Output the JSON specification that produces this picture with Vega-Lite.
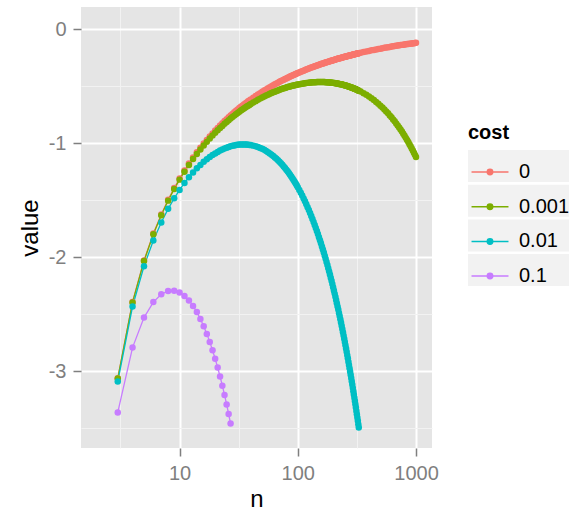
{
  "$schema": "https://vega.github.io/schema/vega-lite/v6.json",
  "width": 351,
  "height": 441,
  "autosize": {"type": "none"},
  "padding": {"left": 81, "top": 7, "right": 149, "bottom": 64},
  "background": "white",
  "config": {
    "font": "Liberation Sans",
    "view": {"fill": "#E5E5E5", "stroke": null}
  },
  "data": {"values": [
    {"n":3,"a":-3.06,"b":-3.063,"c":-3.09,"d":-3.36},
    {"n":4,"a":-2.392,"b":-2.396,"c":-2.432,"d":-2.792},
    {"n":5,"a":-2.029,"b":-2.034,"c":-2.079,"d":-2.529},
    {"n":6,"a":-1.793,"b":-1.799,"c":-1.853,"d":-2.393},
    {"n":7,"a":-1.625,"b":-1.632,"c":-1.695,"d":-2.325},
    {"n":8,"a":-1.496,"b":-1.504,"c":-1.576,"d":-2.296},
    {"n":9,"a":-1.394,"b":-1.403,"c":-1.484,"d":-2.294},
    {"n":10,"a":-1.31,"b":-1.32,"c":-1.41,"d":-2.31},
    {"n":11,"a":-1.239,"b":-1.25,"c":-1.349,"d":-2.339},
    {"n":12,"a":-1.179,"b":-1.191,"c":-1.299,"d":-2.379},
    {"n":13,"a":-1.127,"b":-1.14,"c":-1.257,"d":-2.427},
    {"n":14,"a":-1.081,"b":-1.095,"c":-1.221,"d":-2.481},
    {"n":15,"a":-1.041,"b":-1.056,"c":-1.191,"d":-2.541},
    {"n":16,"a":-1.004,"b":-1.02,"c":-1.164,"d":-2.604},
    {"n":17,"a":-0.972,"b":-0.989,"c":-1.142,"d":-2.672},
    {"n":18,"a":-0.942,"b":-0.96,"c":-1.122,"d":-2.742},
    {"n":19,"a":-0.915,"b":-0.934,"c":-1.105,"d":-2.815},
    {"n":20,"a":-0.89,"b":-0.91,"c":-1.09,"d":-2.89},
    {"n":21,"a":-0.867,"b":-0.888,"c":-1.077,"d":-2.967},
    {"n":22,"a":-0.845,"b":-0.867,"c":-1.065,"d":-3.045},
    {"n":23,"a":-0.826,"b":-0.849,"c":-1.056,"d":-3.126},
    {"n":24,"a":-0.807,"b":-0.831,"c":-1.047,"d":-3.207},
    {"n":25,"a":-0.79,"b":-0.815,"c":-1.04,"d":-3.29},
    {"n":26,"a":-0.774,"b":-0.8,"c":-1.034,"d":-3.374},
    {"n":27,"a":-0.758,"b":-0.785,"c":-1.028,"d":-3.458},
    {"n":28,"a":-0.744,"b":-0.772,"c":-1.024},
    {"n":29,"a":-0.73,"b":-0.759,"c":-1.02},
    {"n":30,"a":-0.717,"b":-0.747,"c":-1.017},
    {"n":31,"a":-0.705,"b":-0.736,"c":-1.015},
    {"n":32,"a":-0.693,"b":-0.725,"c":-1.013},
    {"n":33,"a":-0.682,"b":-0.715,"c":-1.012},
    {"n":34,"a":-0.672,"b":-0.706,"c":-1.012},
    {"n":35,"a":-0.662,"b":-0.697,"c":-1.012},
    {"n":36,"a":-0.652,"b":-0.688,"c":-1.012},
    {"n":37,"a":-0.643,"b":-0.68,"c":-1.013},
    {"n":38,"a":-0.634,"b":-0.672,"c":-1.014},
    {"n":39,"a":-0.626,"b":-0.665,"c":-1.016},
    {"n":40,"a":-0.617,"b":-0.657,"c":-1.017},
    {"n":42,"a":-0.602,"b":-0.644,"c":-1.022},
    {"n":44,"a":-0.588,"b":-0.632,"c":-1.028},
    {"n":46,"a":-0.574,"b":-0.62,"c":-1.034},
    {"n":48,"a":-0.562,"b":-0.61,"c":-1.042},
    {"n":50,"a":-0.55,"b":-0.6,"c":-1.05},
    {"n":52,"a":-0.539,"b":-0.591,"c":-1.059},
    {"n":54,"a":-0.529,"b":-0.583,"c":-1.069},
    {"n":56,"a":-0.519,"b":-0.575,"c":-1.079},
    {"n":58,"a":-0.51,"b":-0.568,"c":-1.09},
    {"n":60,"a":-0.501,"b":-0.561,"c":-1.101},
    {"n":62,"a":-0.493,"b":-0.555,"c":-1.113},
    {"n":64,"a":-0.485,"b":-0.549,"c":-1.125},
    {"n":66,"a":-0.477,"b":-0.543,"c":-1.137},
    {"n":68,"a":-0.47,"b":-0.538,"c":-1.15},
    {"n":70,"a":-0.463,"b":-0.533,"c":-1.163},
    {"n":72,"a":-0.456,"b":-0.528,"c":-1.176},
    {"n":74,"a":-0.45,"b":-0.524,"c":-1.19},
    {"n":76,"a":-0.444,"b":-0.52,"c":-1.204},
    {"n":78,"a":-0.438,"b":-0.516,"c":-1.218},
    {"n":80,"a":-0.433,"b":-0.513,"c":-1.233},
    {"n":82,"a":-0.427,"b":-0.509,"c":-1.247},
    {"n":84,"a":-0.422,"b":-0.506,"c":-1.262},
    {"n":86,"a":-0.417,"b":-0.503,"c":-1.277},
    {"n":88,"a":-0.412,"b":-0.5,"c":-1.292},
    {"n":90,"a":-0.407,"b":-0.497,"c":-1.307},
    {"n":92,"a":-0.403,"b":-0.495,"c":-1.323},
    {"n":94,"a":-0.399,"b":-0.493,"c":-1.339},
    {"n":96,"a":-0.394,"b":-0.49,"c":-1.354},
    {"n":98,"a":-0.39,"b":-0.488,"c":-1.37},
    {"n":100,"a":-0.386,"b":-0.486,"c":-1.386},
    {"n":103,"a":-0.381,"b":-0.484,"c":-1.411},
    {"n":106,"a":-0.375,"b":-0.481,"c":-1.435},
    {"n":109,"a":-0.37,"b":-0.479,"c":-1.46},
    {"n":112,"a":-0.365,"b":-0.477,"c":-1.485},
    {"n":115,"a":-0.36,"b":-0.475,"c":-1.51},
    {"n":118,"a":-0.355,"b":-0.473,"c":-1.535},
    {"n":121,"a":-0.351,"b":-0.472,"c":-1.561},
    {"n":124,"a":-0.346,"b":-0.47,"c":-1.586},
    {"n":127,"a":-0.342,"b":-0.469,"c":-1.612},
    {"n":130,"a":-0.338,"b":-0.468,"c":-1.638},
    {"n":133,"a":-0.334,"b":-0.467,"c":-1.664},
    {"n":136,"a":-0.331,"b":-0.467,"c":-1.691},
    {"n":139,"a":-0.327,"b":-0.466,"c":-1.717},
    {"n":142,"a":-0.324,"b":-0.466,"c":-1.744},
    {"n":145,"a":-0.32,"b":-0.465,"c":-1.77},
    {"n":148,"a":-0.317,"b":-0.465,"c":-1.797},
    {"n":151,"a":-0.314,"b":-0.465,"c":-1.824},
    {"n":154,"a":-0.311,"b":-0.465,"c":-1.851},
    {"n":157,"a":-0.307,"b":-0.464,"c":-1.877},
    {"n":160,"a":-0.305,"b":-0.465,"c":-1.905},
    {"n":163,"a":-0.302,"b":-0.465,"c":-1.932},
    {"n":166,"a":-0.299,"b":-0.465,"c":-1.959},
    {"n":169,"a":-0.296,"b":-0.465,"c":-1.986},
    {"n":172,"a":-0.294,"b":-0.466,"c":-2.014},
    {"n":175,"a":-0.291,"b":-0.466,"c":-2.041},
    {"n":178,"a":-0.289,"b":-0.467,"c":-2.069},
    {"n":181,"a":-0.286,"b":-0.467,"c":-2.096},
    {"n":184,"a":-0.284,"b":-0.468,"c":-2.124},
    {"n":187,"a":-0.282,"b":-0.469,"c":-2.152},
    {"n":190,"a":-0.279,"b":-0.469,"c":-2.179},
    {"n":193,"a":-0.277,"b":-0.47,"c":-2.207},
    {"n":196,"a":-0.275,"b":-0.471,"c":-2.235},
    {"n":199,"a":-0.273,"b":-0.472,"c":-2.263},
    {"n":202,"a":-0.271,"b":-0.473,"c":-2.291},
    {"n":205,"a":-0.269,"b":-0.474,"c":-2.319},
    {"n":208,"a":-0.267,"b":-0.475,"c":-2.347},
    {"n":211,"a":-0.265,"b":-0.476,"c":-2.375},
    {"n":214,"a":-0.263,"b":-0.477,"c":-2.403},
    {"n":217,"a":-0.261,"b":-0.478,"c":-2.431},
    {"n":220,"a":-0.259,"b":-0.479,"c":-2.459},
    {"n":223,"a":-0.258,"b":-0.481,"c":-2.488},
    {"n":226,"a":-0.256,"b":-0.482,"c":-2.516},
    {"n":229,"a":-0.254,"b":-0.483,"c":-2.544},
    {"n":232,"a":-0.253,"b":-0.485,"c":-2.573},
    {"n":235,"a":-0.251,"b":-0.486,"c":-2.601},
    {"n":238,"a":-0.249,"b":-0.487,"c":-2.629},
    {"n":241,"a":-0.248,"b":-0.489,"c":-2.658},
    {"n":244,"a":-0.246,"b":-0.49,"c":-2.686},
    {"n":247,"a":-0.245,"b":-0.492,"c":-2.715},
    {"n":250,"a":-0.243,"b":-0.493,"c":-2.743},
    {"n":253,"a":-0.242,"b":-0.495,"c":-2.772},
    {"n":256,"a":-0.24,"b":-0.496,"c":-2.8},
    {"n":259,"a":-0.239,"b":-0.498,"c":-2.829},
    {"n":262,"a":-0.238,"b":-0.5,"c":-2.858},
    {"n":265,"a":-0.236,"b":-0.501,"c":-2.886},
    {"n":268,"a":-0.235,"b":-0.503,"c":-2.915},
    {"n":271,"a":-0.234,"b":-0.505,"c":-2.944},
    {"n":274,"a":-0.232,"b":-0.506,"c":-2.972},
    {"n":277,"a":-0.231,"b":-0.508,"c":-3.001},
    {"n":280,"a":-0.23,"b":-0.51,"c":-3.03},
    {"n":283,"a":-0.229,"b":-0.512,"c":-3.059},
    {"n":286,"a":-0.227,"b":-0.513,"c":-3.087},
    {"n":289,"a":-0.226,"b":-0.515,"c":-3.116},
    {"n":292,"a":-0.225,"b":-0.517,"c":-3.145},
    {"n":295,"a":-0.224,"b":-0.519,"c":-3.174},
    {"n":298,"a":-0.223,"b":-0.521,"c":-3.203},
    {"n":301,"a":-0.222,"b":-0.523,"c":-3.232},
    {"n":304,"a":-0.22,"b":-0.524,"c":-3.26},
    {"n":307,"a":-0.219,"b":-0.526,"c":-3.289},
    {"n":310,"a":-0.218,"b":-0.528,"c":-3.318},
    {"n":313,"a":-0.217,"b":-0.53,"c":-3.347},
    {"n":316,"a":-0.216,"b":-0.532,"c":-3.376},
    {"n":319,"a":-0.215,"b":-0.534,"c":-3.405},
    {"n":322,"a":-0.214,"b":-0.536,"c":-3.434},
    {"n":325,"a":-0.213,"b":-0.538,"c":-3.463},
    {"n":328,"a":-0.212,"b":-0.54,"c":-3.492},
    {"n":340,"a":-0.208,"b":-0.548},
    {"n":360,"a":-0.202,"b":-0.563},
    {"n":380,"a":-0.197,"b":-0.577},
    {"n":400,"a":-0.192,"b":-0.592},
    {"n":420,"a":-0.187,"b":-0.607},
    {"n":440,"a":-0.183,"b":-0.623},
    {"n":460,"a":-0.179,"b":-0.639},
    {"n":480,"a":-0.175,"b":-0.655},
    {"n":500,"a":-0.172,"b":-0.672},
    {"n":520,"a":-0.168,"b":-0.688},
    {"n":540,"a":-0.165,"b":-0.705},
    {"n":560,"a":-0.162,"b":-0.722},
    {"n":580,"a":-0.159,"b":-0.739},
    {"n":600,"a":-0.157,"b":-0.757},
    {"n":620,"a":-0.154,"b":-0.774},
    {"n":640,"a":-0.152,"b":-0.792},
    {"n":660,"a":-0.149,"b":-0.809},
    {"n":680,"a":-0.147,"b":-0.827},
    {"n":700,"a":-0.145,"b":-0.845},
    {"n":720,"a":-0.143,"b":-0.863},
    {"n":740,"a":-0.141,"b":-0.881},
    {"n":760,"a":-0.139,"b":-0.899},
    {"n":780,"a":-0.137,"b":-0.917},
    {"n":800,"a":-0.136,"b":-0.936},
    {"n":820,"a":-0.134,"b":-0.954},
    {"n":840,"a":-0.132,"b":-0.972},
    {"n":860,"a":-0.131,"b":-0.991},
    {"n":880,"a":-0.129,"b":-1.009},
    {"n":900,"a":-0.128,"b":-1.028},
    {"n":920,"a":-0.127,"b":-1.047},
    {"n":940,"a":-0.125,"b":-1.065},
    {"n":960,"a":-0.124,"b":-1.084},
    {"n":980,"a":-0.123,"b":-1.103},
    {"n":1000,"a":-0.121,"b":-1.121}
  ]},
  "transform": [
    {"fold": ["a", "b", "c", "d"], "as": ["cost", "value"]},
    {"filter": "isValid(datum.value)"}
  ],
  "encoding": {
    "x": {
      "field": "n", "type": "quantitative",
      "scale": {"type": "log", "domain": [1.466, 1365], "nice": false},
      "axis": {
        "values": [10, 100, 1000], "labelExpr": "'' + datum.value", "labelFlush": false,
        "grid": true, "gridColor": "#FFFFFF", "gridWidth": 2, "domain": false,
        "tickColor": "#7F7F7F", "tickSize": 8, "tickWidth": 1.5,
        "labelColor": "#7F7F7F", "labelFontSize": 20, "labelPadding": 7,
        "title": "n", "titleFontSize": 24, "titleFontWeight": "normal", "titleColor": "#000000", "titlePadding": 4
      }
    },
    "y": {
      "field": "value", "type": "quantitative",
      "scale": {"domain": [-3.672, 0.193], "nice": false, "zero": false},
      "axis": {
        "values": [-3, -2, -1, 0], "labelExpr": "'' + datum.value", "labelFlush": false,
        "grid": true, "gridColor": "#FFFFFF", "gridWidth": 2, "domain": false,
        "tickColor": "#7F7F7F", "tickSize": 8, "tickWidth": 1.5,
        "labelColor": "#7F7F7F", "labelFontSize": 20, "labelPadding": 7,
        "title": "value", "titleFontSize": 24, "titleFontWeight": "normal", "titleColor": "#000000", "titlePadding": 6
      }
    },
    "color": {
      "field": "cost", "type": "nominal",
      "scale": {"domain": ["a", "b", "c", "d"], "range": ["#F8766D", "#7CAE00", "#00BFC4", "#C77CFF"]},
      "legend": {
        "title": "cost", "orient": "none", "legendX": 387, "legendY": 116, "padding": 0,
        "titleFontSize": 20, "titleFontWeight": "bold", "titleColor": "#000000", "titlePadding": 7,
        "labelFontSize": 20, "labelColor": "#000000", "labelOffset": 7,
        "labelExpr": "datum.label == 'a' ? '0' : datum.label == 'b' ? '0.001' : datum.label == 'c' ? '0.01' : '0.1'",
        "symbolType": "M-0.88,0L0.88,0M-0.13,0A0.13,0.13,0,1,0,0.13,0A0.13,0.13,0,1,0,-0.13,0Z",
        "symbolSize": 1764, "symbolStrokeWidth": 1.5, "rowPadding": 2.7,
        "encode": {
          "entries": {"update": {"fill": {"value": "#F2F2F2"}, "width": {"value": 44}, "height": {"value": 44}}},
          "symbols": {"update": {
            "fill": {"scale": "color", "field": "value"},
            "stroke": {"scale": "color", "field": "value"},
            "strokeWidth": {"value": 1.5},
            "size": {"value": 1764},
            "shape": {"value": "M-0.88,0L0.88,0M-0.13,0A0.13,0.13,0,1,0,0.13,0A0.13,0.13,0,1,0,-0.13,0Z"},
            "opacity": {"value": 1}
          }}
        }
      }
    }
  },
  "layer": [
    {"mark": {"type": "line", "strokeWidth": 1.3}},
    {
      "mark": {"type": "point", "filled": true, "size": 42, "opacity": 1},
      "encoding": {
        "order": {"field": "cost"},
        "x": {
          "field": "n", "type": "quantitative",
          "scale": {"type": "log", "domain": [1.466, 1365], "nice": false},
          "axis": {"orient": "top", "values": [3.162, 31.62, 316.2], "grid": true, "gridColor": "#F2F2F2", "gridWidth": 1, "ticks": false, "labels": false, "domain": false, "title": null}
        },
        "y": {
          "field": "value", "type": "quantitative",
          "scale": {"domain": [-3.672, 0.193], "nice": false, "zero": false},
          "axis": {"orient": "right", "values": [-3.5, -2.5, -1.5, -0.5], "grid": true, "gridColor": "#F2F2F2", "gridWidth": 1, "ticks": false, "labels": false, "domain": false, "title": null}
        }
      }
    }
  ],
  "resolve": {"axis": {"x": "independent", "y": "independent"}}
}
